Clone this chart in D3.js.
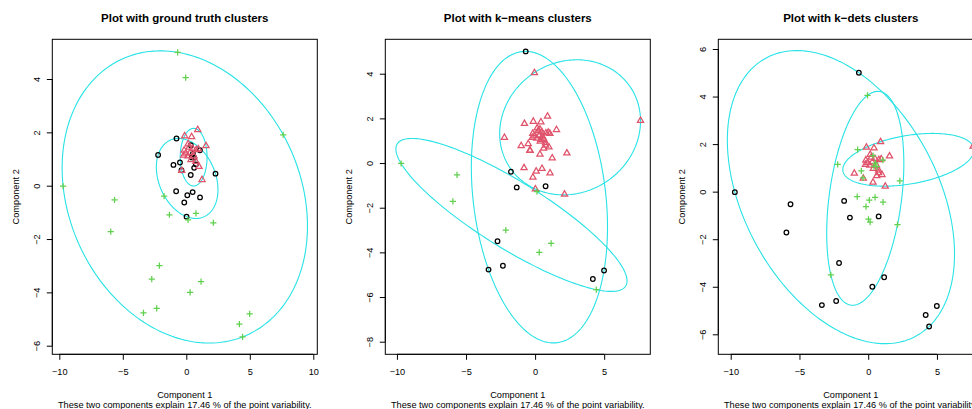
<!DOCTYPE html>
<html>
<head>
<meta charset="utf-8">
<script src="https://cdn.jsdelivr.net/npm/d3@7"></script>
<style>
  html, body { margin: 0; padding: 0; background: #ffffff; }
  svg { display: block; }
  text { font-family: "Liberation Sans", Arial, Helvetica, sans-serif; fill: #000; }
</style>
</head>
<body>
<svg id="chart" width="972" height="409"></svg>
<script>
// Projected coordinates of the observations on the first two principal components
const pc1 = [
  -2.22, -0.77, -1.01, -0.50, 0.35, 0.62, 0.76, 2.30, 1.07, 0.42,
   0.63, -0.80, 0.08, 0.50, 1.08, -0.16, 0.02, -0.38, 0.35, 0.52,
   0.90, -0.13, 0.42, 1.55, 0.15, -0.17, 0.49, 0.78, -0.05, 0.12,
   0.37, 0.76, 1.00, -0.36, 1.24, 0.30, 0.60, -0.20, 0.95, 0.22,
  -9.70, -5.65, -5.95, -0.68, -0.05, 7.63, -1.75, -1.33, 0.76, 0.14,
   2.13, -2.12, -2.72, -3.37, -2.33, 1.16, 0.30, 4.18, 4.99, 4.43
];
const pc2 = [
   1.15, 1.77, 0.78, 0.87, 0.40, 0.67, 0.80, 0.45, 1.33, 1.06,
   1.05, -0.21, -0.36, -0.24, -0.44, -0.63, -1.16, 0.58, 1.52, 1.20,
   2.10, 1.87, 1.84, 1.50, 1.57, 1.33, 1.40, 1.35, 1.22, 1.12,
   0.98, 0.91, 0.72, 0.57, 0.23, 1.25, 1.12, 1.15, 1.38, 1.45,
  -0.02, -0.53, -1.72, 5.00, 4.05, 1.91, -0.39, -1.09, -1.04, -1.28,
  -1.39, -3.00, -3.50, -4.77, -4.60, -3.60, -4.00, -5.19, -4.81, -5.67
];

// Cluster memberships (1 = circle, 2 = triangle, 3 = plus)
const truthCluster = [
  1,1,1,1,1,1,1,1,1,1, 1,1,1,1,1,1,1,1,1,1,
  2,2,2,2,2,2,2,2,2,2, 2,2,2,2,2,2,2,2,2,2,
  3,3,3,3,3,3,3,3,3,3, 3,3,3,3,3,3,3,3,3,3
];
const kmeansCluster = [
  2,2,2,2,2,2,2,2,2,2, 2,2,2,2,2,2,2,2,2,2,
  2,2,2,2,2,2,2,2,2,2, 2,2,2,2,2,2,2,2,2,2,
  3,3,3,1,2,2,1,1,1,3, 2,3,1,1,1,3,3,1,1,3
];
const kdetsCluster = [
  3,3,2,3,2,2,2,3,3,3, 3,3,3,3,3,3,3,3,3,3,
  2,2,2,2,2,2,2,2,2,2, 2,2,2,2,2,2,2,2,2,2,
  1,1,1,1,3,2,1,1,1,3, 3,1,3,1,1,1,1,1,1,1
];

const panelTitles = [
  "Plot with ground truth clusters",
  "Plot with k\u2212means clusters",
  "Plot with k\u2212dets clusters"
];
const xTickValues = [[-10, -5, 0, 5, 10], [-10, -5, 0, 5], [-10, -5, 0, 5]];
const yTickValues = [[-6, -4, -2, 0, 2, 4], [-8, -6, -4, -2, 0, 2, 4], [-6, -4, -2, 0, 2, 4, 6]];
const xLabel = "Component 1";
const yLabel = "Component 2";
const varianceNote = "These two components explain 17.46 % of the point variability.";

// Axis limits of each panel
const xLimits = [[-10.551, 10.315], [-10.842, 8.338], [-10.903, 8.371]];
const yLimits = [[-6.322, 5.489], [-8.564, 5.541], [-6.841, 6.408]];

const pointColors = { 1: "#000000", 2: "#DF536B", 3: "#61D04F" };
const ellipseColor = "#28E2E5";

const svg = d3.select("#chart");
const panelStep = 333;
const plotLeft = 52.3, plotTop = 39.3, plotW = 265, plotH = 315;
const smallFont = 9.2;

const points = pc1.map((x, i) => ({ x, y: pc2[i] }));

// Smallest-area ellipse containing a set of points (Khachiyan iterations),
// scaled so the farthest point lies exactly on it.
function inv3(m) {
  const [a, b, c] = m[0], [d, e, f] = m[1], [g, h, k] = m[2];
  const A = e * k - f * h, B = -(d * k - f * g), C = d * h - e * g;
  const det = a * A + b * B + c * C;
  return [
    [A / det, -(b * k - c * h) / det, (b * f - c * e) / det],
    [B / det, (a * k - c * g) / det, -(a * f - c * d) / det],
    [C / det, -(a * h - b * g) / det, (a * e - b * d) / det]
  ];
}
function enclosingEllipse(pts) {
  const n = pts.length;
  let u = new Array(n).fill(1 / n);
  for (let it = 0; it < 50000; it++) {
    const X = [[0, 0, 0], [0, 0, 0], [0, 0, 0]];
    pts.forEach((p, i) => {
      const q = [p.x, p.y, 1];
      for (let a = 0; a < 3; a++) for (let b = 0; b < 3; b++) X[a][b] += u[i] * q[a] * q[b];
    });
    const Xi = inv3(X);
    let jmax = 0, mmax = -Infinity;
    pts.forEach((p, i) => {
      const q = [p.x, p.y, 1];
      let m = 0;
      for (let a = 0; a < 3; a++) for (let b = 0; b < 3; b++) m += q[a] * Xi[a][b] * q[b];
      if (m > mmax) { mmax = m; jmax = i; }
    });
    const step = (mmax - 3) / (3 * (mmax - 1));
    if (step < 1e-9) break;
    u = u.map(v => v * (1 - step));
    u[jmax] += step;
  }
  let cx = 0, cy = 0;
  pts.forEach((p, i) => { cx += u[i] * p.x; cy += u[i] * p.y; });
  let sxx = 0, sxy = 0, syy = 0;
  pts.forEach((p, i) => {
    const dx = p.x - cx, dy = p.y - cy;
    sxx += u[i] * dx * dx; sxy += u[i] * dx * dy; syy += u[i] * dy * dy;
  });
  const det = sxx * syy - sxy * sxy;
  let dmax = 0;
  pts.forEach(p => {
    const dx = p.x - cx, dy = p.y - cy;
    const m = (syy * dx * dx - 2 * sxy * dx * dy + sxx * dy * dy) / det;
    if (m > dmax) dmax = m;
  });
  return { cx, cy, sxx: sxx * dmax, sxy: sxy * dmax, syy: syy * dmax };
}
function ellipseOutline(e, steps = 240) {
  const l11 = Math.sqrt(e.sxx);
  const l21 = e.sxy / l11;
  const l22 = Math.sqrt(Math.max(e.syy - l21 * l21, 0));
  return d3.range(steps).map(k => {
    const t = 2 * Math.PI * k / steps;
    const c = Math.cos(t), s = Math.sin(t);
    return { x: e.cx + l11 * c, y: e.cy + l21 * c + l22 * s };
  });
}

const memberships = [truthCluster, kmeansCluster, kdetsCluster];
const fmt = d3.format("d");

memberships.forEach((clusterOf, pi) => {
  const left = plotLeft + pi * panelStep;
  const x = d3.scaleLinear().domain(xLimits[pi]).range([left, left + plotW]);
  const y = d3.scaleLinear().domain(yLimits[pi]).range([plotTop + plotH, plotTop]);
  const g = svg.append("g");

  const clipId = "clip" + pi;
  svg.append("clipPath").attr("id", clipId)
    .append("rect").attr("x", left).attr("y", plotTop).attr("width", plotW).attr("height", plotH);

  // Cluster ellipses
  const line = d3.line().x(d => x(d.x)).y(d => y(d.y)).curve(d3.curveLinearClosed);
  const ids = [1, 2, 3];
  const eg = g.append("g").attr("clip-path", `url(#${clipId})`);
  ids.forEach(c => {
    const members = points.filter((p, i) => clusterOf[i] === c);
    if (members.length < 3) return;
    const e = enclosingEllipse(members);
    eg.append("path")
      .attr("d", line(ellipseOutline(e)))
      .attr("fill", "none")
      .attr("stroke", ellipseColor)
      .attr("stroke-width", 1.1);
  });

  // Observations, one symbol per cluster
  const pg = g.append("g").attr("clip-path", `url(#${clipId})`).attr("fill", "none").attr("stroke-width", 1.25);
  ids.forEach(c => {
    points.forEach((p, i) => {
      if (clusterOf[i] !== c) return;
      const px = x(p.x), py = y(p.y), col = pointColors[c];
      if (c === 1) {
        pg.append("circle").attr("cx", px).attr("cy", py).attr("r", 2.3).attr("stroke", col);
      } else if (c === 2) {
        const s = 6.2;
        pg.append("path")
          .attr("d", `M${px},${py - s * 0.55}L${px - s / 2},${py + s * 0.32}L${px + s / 2},${py + s * 0.32}Z`)
          .attr("stroke", col);
      } else {
        const a = 3.1;
        pg.append("path")
          .attr("d", `M${px - a},${py}H${px + a}M${px},${py - a}V${py + a}`)
          .attr("stroke", col);
      }
    });
  });

  // Frame
  g.append("rect").attr("x", left).attr("y", plotTop).attr("width", plotW).attr("height", plotH)
    .attr("fill", "none").attr("stroke", "#000").attr("stroke-width", 1);

  // Axes
  const xAxis = d3.axisBottom(x).tickValues(xTickValues[pi]).tickSize(5.5).tickPadding(6).tickFormat(fmt);
  const gx = g.append("g").attr("transform", `translate(0,${plotTop + plotH})`).call(xAxis);
  gx.select(".domain").attr("d", `M${x(xTickValues[pi][0])},0H${x(xTickValues[pi][xTickValues[pi].length - 1])}`);
  gx.selectAll("text").attr("font-size", smallFont).attr("font-family", null).attr("dy", null).attr("y", 20.6);

  const yAxis = d3.axisLeft(y).tickValues(yTickValues[pi]).tickSize(5.5).tickFormat(fmt);
  const gy = g.append("g").attr("transform", `translate(${left},0)`).call(yAxis);
  gy.select(".domain").attr("d", `M0,${y(yTickValues[pi][0])}V${y(yTickValues[pi][yTickValues[pi].length - 1])}`);
  gy.selectAll(".tick text")
    .attr("font-size", smallFont).attr("font-family", null)
    .attr("x", null).attr("dy", null)
    .attr("text-anchor", "middle")
    .attr("transform", "translate(-12,0) rotate(-90)");
  g.selectAll(".domain, .tick line").attr("stroke", "#000");
  g.selectAll(".tick text").attr("fill", "#000");

  // Titles and labels
  const cxm = left + plotW / 2;
  g.append("text").attr("x", cxm).attr("y", 21.6).attr("text-anchor", "middle")
    .attr("font-size", 11.5).attr("font-weight", "bold").text(panelTitles[pi]);
  g.append("text").attr("x", cxm).attr("y", 398).attr("text-anchor", "middle")
    .attr("font-size", smallFont).text(xLabel);
  g.append("text").attr("x", cxm).attr("y", 408).attr("text-anchor", "middle")
    .attr("font-size", smallFont).text(varianceNote);
  g.append("text")
    .attr("transform", `translate(${left - 33.5},${plotTop + plotH / 2}) rotate(-90)`)
    .attr("text-anchor", "middle").attr("font-size", smallFont).text(yLabel);
});
</script>
</body>
</html>
